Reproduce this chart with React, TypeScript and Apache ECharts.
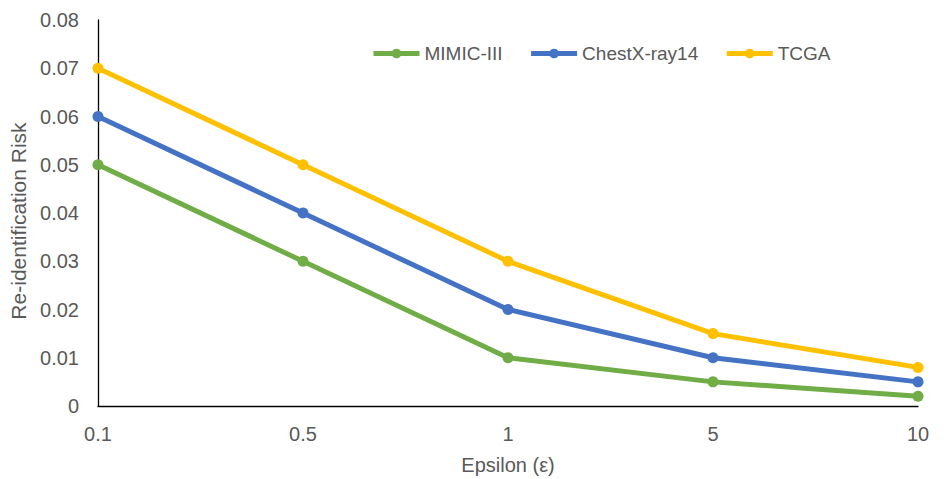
import React, { useEffect, useRef } from "react";
import * as echarts from "echarts";

const categories = ["0.1", "0.5", "1", "5", "10"];
const mimic = [0.05, 0.03, 0.01, 0.005, 0.002];
const chestx = [0.06, 0.04, 0.02, 0.01, 0.005];
const tcga = [0.07, 0.05, 0.03, 0.015, 0.008];

const FONT = "'Liberation Sans', 'DejaVu Sans', sans-serif";
const TXT = "#595959";

export default function App() {
  const ref = useRef<HTMLDivElement>(null);
  useEffect(() => {
    const chart = echarts.init(ref.current!, null, { renderer: "svg" });
    const mk = (name: string, data: number[], color: string) => ({
      name,
      type: "line",
      data,
      symbol: "circle",
      symbolSize: 11,
      itemStyle: { color },
      lineStyle: { color, width: 5 },
    });
    chart.setOption({
      animation: false,
      backgroundColor: "#fff",
      textStyle: { fontFamily: FONT },
      grid: {
        left: 98,
        right: 26,
        top: 20,
        bottom: 73,
        containLabel: false,
        outerBoundsMode: "none",
      },
      legend: {
        left: 366,
        top: 39,
        itemWidth: 46,
        itemHeight: 12,
        itemGap: 26,
        lineStyle: { width: 5 },
        textStyle: { color: TXT, fontSize: 19, fontFamily: FONT },
        data: ["MIMIC-III", "ChestX-ray14", "TCGA"],
      },
      xAxis: {
        type: "category",
        data: categories,
        boundaryGap: false,
        axisLine: { lineStyle: { color: "#000", width: 1.3 } },
        axisTick: { show: false },
        axisLabel: { color: TXT, fontSize: 20, margin: 18, fontFamily: FONT },
        name: "Epsilon (ε)",
        nameLocation: "middle",
        nameGap: 49,
        nameTextStyle: { color: TXT, fontSize: 20, fontFamily: FONT },
      },
      yAxis: {
        type: "value",
        min: 0,
        max: 0.08,
        interval: 0.01,
        splitLine: { show: false },
        axisLine: { show: true, lineStyle: { color: "#000", width: 1.3 } },
        axisTick: { show: false },
        axisLabel: { color: TXT, fontSize: 20, margin: 19, fontFamily: FONT },
        name: "Re-identification Risk",
        nameLocation: "middle",
        nameGap: 66,
        nameRotate: 90,
        nameTextStyle: {
          color: TXT,
          fontSize: 21,
          fontFamily: FONT,
          padding: [0, 16, 0, 0],
        },
      },
      series: [
        mk("MIMIC-III", mimic, "#70AD47"),
        mk("ChestX-ray14", chestx, "#4472C4"),
        mk("TCGA", tcga, "#FFC000"),
      ],
    });
    return () => chart.dispose();
  }, []);
  return (
    <div
      ref={ref}
      style={{ position: "absolute", left: 0, top: 0, width: 944, height: 479 }}
    />
  );
}
